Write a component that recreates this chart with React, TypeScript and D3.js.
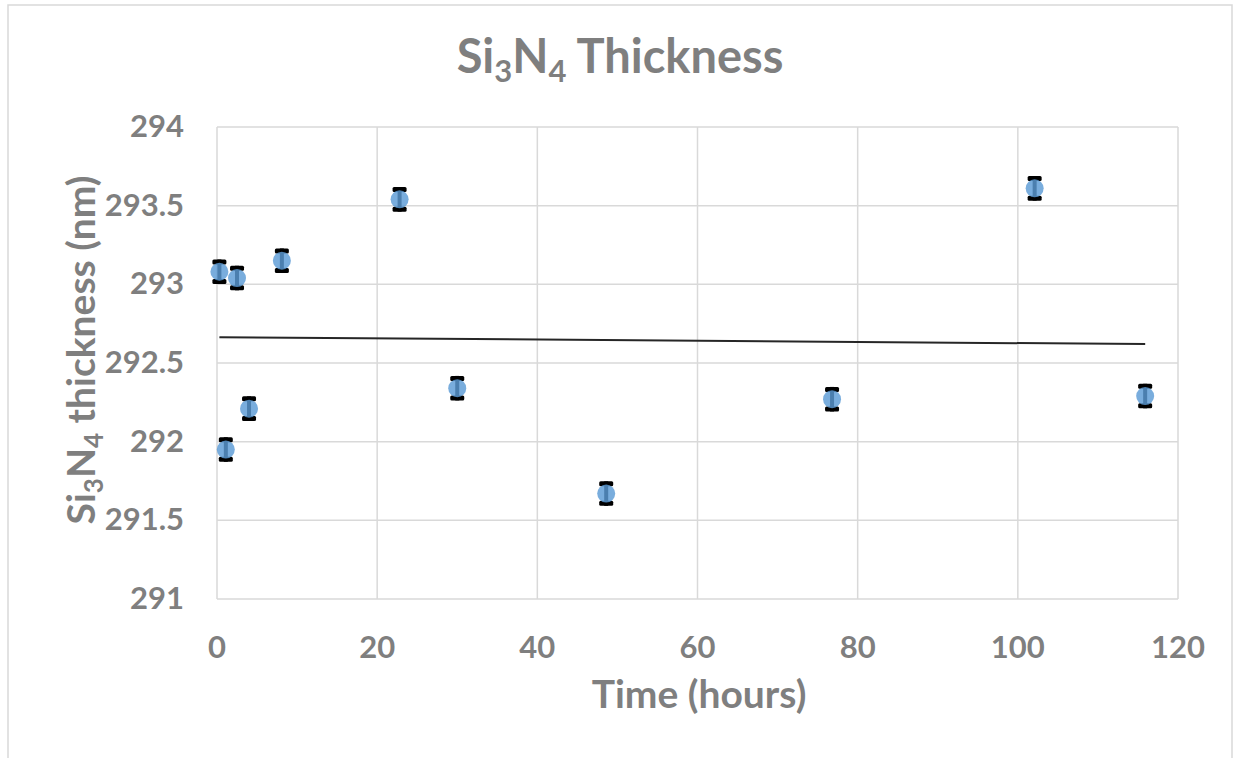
import React from 'react';
import * as d3 from 'd3';

const timeHours = [0.3, 1.1, 2.5, 4.0, 8.1, 22.8, 30.0, 48.6, 76.8, 102.1, 115.9];
const thicknessNm = [293.08, 291.95, 293.04, 292.21, 293.15, 293.54, 292.34, 291.67, 292.27, 293.61, 292.29];
const errorNm = [0.078, 0.078, 0.078, 0.078, 0.078, 0.078, 0.078, 0.078, 0.078, 0.078, 0.078];
const xTicks = [0, 20, 40, 60, 80, 100, 120];
const yTicks = [291, 291.5, 292, 292.5, 293, 293.5, 294];
const yTickLabels = ['291', '291.5', '292', '292.5', '293', '293.5', '294'];

const W = 1236;
const H = 758;
const M = { left: 217, right: 1178, top: 127, bottom: 599 };
const GRAY = '#7F7F7F';
const GRID = '#D9D9D9';
const FONT = 'Lato, "Open Sans", sans-serif';

export default function App() {
  const x = d3.scaleLinear().domain([0, 120]).range([M.left, M.right]);
  const y = d3.scaleLinear().domain([291, 294]).range([M.bottom, M.top]);

  const pts = timeHours.map((t, i) => ({ t, v: thicknessNm[i], e: errorNm[i] }));
  const mx = d3.mean(timeHours) as number;
  const my = d3.mean(thicknessNm) as number;
  let sxy = 0;
  let sxx = 0;
  pts.forEach((p) => {
    sxy += (p.t - mx) * (p.v - my);
    sxx += (p.t - mx) * (p.t - mx);
  });
  const slope = sxy / sxx;
  const icpt = my - slope * mx;
  const [xmin, xmax] = d3.extent(timeHours) as [number, number];
  const trend = d3.line<number>().x((t) => x(t)).y((t) => y(icpt + slope * t))([xmin, xmax]) as string;

  return (
    <svg width={W} height={H} style={{ position: 'absolute', left: 0, top: 0 }} fontFamily={FONT}>
      <rect x={0} y={0} width={W} height={H} fill="#fff" />
      <path d={`M8,${H} V5 H1232 V${H}`} fill="none" stroke="#D9D9D9" strokeWidth={1.5} />

      {/* title */}
      <text x={620} y={73} textAnchor="middle" fontSize={47} fontWeight={700} fill={GRAY}>
        Si<tspan fontSize={31} dy={9}>3</tspan>
        <tspan dy={-9}>N</tspan>
        <tspan fontSize={31} dy={9}>4</tspan>
        <tspan dy={-9}> Thickness</tspan>
      </text>

      {/* gridlines */}
      {yTicks.map((v) => (
        <line key={'gy' + v} x1={M.left} x2={M.right} y1={y(v)} y2={y(v)} stroke={GRID} strokeWidth={1.5} />
      ))}
      {xTicks.map((v) => (
        <line key={'gx' + v} x1={x(v)} x2={x(v)} y1={M.top} y2={M.bottom} stroke={GRID} strokeWidth={1.5} />
      ))}

      {/* y tick labels */}
      {yTicks.map((v, i) => (
        <text key={'ty' + v} x={184} y={y(v) + 10} textAnchor="end" fontSize={31} fontWeight={700} fill={GRAY}>
          {yTickLabels[i]}
        </text>
      ))}
      {/* x tick labels */}
      {xTicks.map((v) => (
        <text key={'tx' + v} x={x(v)} y={658} textAnchor="middle" fontSize={31} fontWeight={700} fill={GRAY}>
          {v}
        </text>
      ))}

      {/* axis titles */}
      <text x={699} y={708} textAnchor="middle" fontSize={39} fontWeight={700} fill={GRAY}>
        Time (hours)
      </text>
      <text
        transform={`translate(95,350) rotate(-90)`}
        textAnchor="middle"
        fontSize={39}
        fontWeight={700}
        fill={GRAY}
      >
        Si<tspan fontSize={26} dy={8}>3</tspan>
        <tspan dy={-8}>N</tspan>
        <tspan fontSize={26} dy={8}>4</tspan>
        <tspan dy={-8}> thickness (nm)</tspan>
      </text>

      {/* trendline */}
      <path d={trend} fill="none" stroke="#262626" strokeWidth={2} />

      {/* error bars + markers */}
      {pts.map((p, i) => {
        const cx = x(p.t);
        const top = y(p.v + p.e);
        const bot = y(p.v - p.e);
        return (
          <g key={'p' + i}>
            <line x1={cx} x2={cx} y1={top} y2={bot} stroke="#000" strokeWidth={4} />
            <rect x={cx - 7} y={top} width={14} height={5} rx={1.5} fill="#000" />
            <rect x={cx - 7} y={bot - 5} width={14} height={5} rx={1.5} fill="#000" />
            <circle cx={cx} cy={y(p.v)} r={9} fill="#5B9BD5" fillOpacity={0.82} />
          </g>
        );
      })}
    </svg>
  );
}
